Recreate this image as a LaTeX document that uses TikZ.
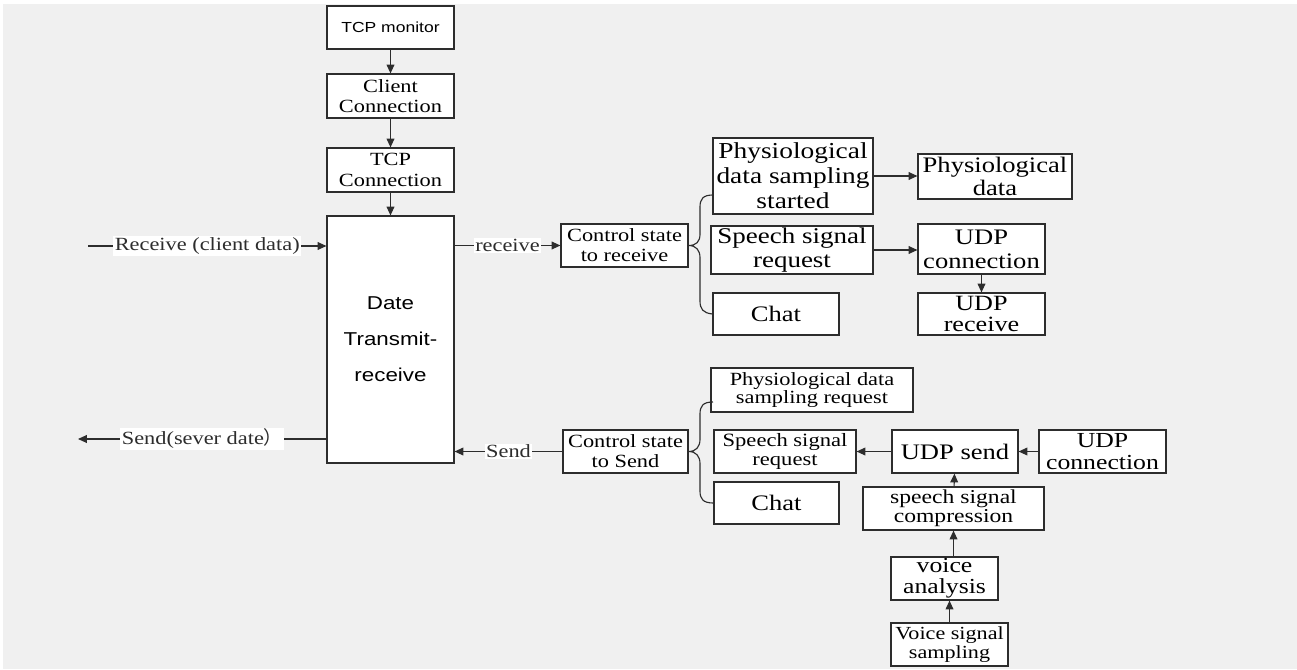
\documentclass[tikz,border=0pt]{standalone}
\usepackage{fontspec}
\setmainfont{Liberation Serif}[FakeStretch=1.2]
\newfontfamily\arialfont{Liberation Sans}[FakeStretch=1.2]
\newfontfamily\cjkfont{Noto Sans CJK SC}
\usetikzlibrary{positioning, arrows.meta, calc}
\definecolor{bggray}{RGB}{240,240,240}
\definecolor{linecol}{RGB}{45,45,45}

\begin{document}
\begin{tikzpicture}[
    x=0.02cm, y=-0.02cm,
    % --- STYLES ---
    box/.style={
            draw=linecol,
            fill=white,
            line width=0.65pt,
            inner sep=0pt,
            align=center
        },
    small/.style={font=\fontsize{10.6}{11.5}\selectfont},
    big/.style={font=\fontsize{12.6}{13.5}\selectfont},
    arr/.style={
            -{Triangle[length=5pt,width=4.4pt]},
            line width=0.65pt,
            color=linecol
        },
    lbl/.style={
            midway,
            fill=white,
            inner sep=0.8pt,
            font=\fontsize{10.6}{11.5}\selectfont
        },
    brace/.style={line width=0.65pt, color=linecol}
    ]

    % --- BACKGROUND ---
    \useasboundingbox (0,0) rectangle (1297,669);
    \fill[bggray] (3,4) rectangle (1297,669);

    % --- TCP CHAIN ---
    \node[box, minimum width=2.54cm, minimum height=0.86cm, font=\arialfont\fontsize{8.3}{9}\selectfont] (tcpmon) at (390.5,27.5) {TCP monitor};
    \node[box, small, minimum width=2.54cm, minimum height=0.88cm] (client) at (390.5,96) {Client\\Connection};
    \node[box, small, minimum width=2.54cm, minimum height=0.88cm] (tcpconn) at (390.5,170) {TCP\\Connection};
    \node[box, minimum width=2.54cm, minimum height=4.94cm, font=\arialfont\fontsize{10.6}{20.4}\selectfont] (dtr) at (390.5,339.5) {Date\\Transmit-\\receive};

    % --- RECEIVE SIDE ---
    \node[box, small, minimum width=2.54cm, minimum height=0.86cm] (ctrlrecv) at (624.5,245.5) {Control state\\to receive};
    \node[box, font=\fontsize{13}{14.2}\selectfont, minimum width=3.2cm, minimum height=1.52cm] (physstart) at (793,176) {Physiological\\data sampling\\started};
    \node[box, font=\fontsize{12.8}{13.6}\selectfont, minimum width=3.24cm, minimum height=0.96cm] (speechrecv) at (792,250) {Speech signal\\request};
    \node[box, big, minimum width=2.52cm, minimum height=0.84cm] (chatrecv) at (776,314) {Chat};
    \node[box, font=\fontsize{12.6}{13}\selectfont, minimum width=3.08cm, minimum height=0.9cm] (physdata) at (995,176.5) {Physiological\\data};
    \node[box, big, minimum width=2.54cm, minimum height=1cm] (udpconnrecv) at (981.5,249) {UDP\\connection};
    \node[box, font=\fontsize{12.4}{12.4}\selectfont, minimum width=2.54cm, minimum height=0.84cm] (udprecv) at (981.5,314) {UDP\\receive};

    % --- SEND SIDE ---
    \node[box, small, minimum width=2.5cm, minimum height=0.86cm] (ctrlsend) at (625.5,451.5) {Control state\\to Send};
    \node[box, font=\fontsize{10.6}{10.6}\selectfont, minimum width=4.04cm, minimum height=0.88cm] (physreq) at (812,390) {Physiological data\\sampling request};
    \node[box, font=\fontsize{10.7}{11}\selectfont, minimum width=2.84cm, minimum height=0.86cm] (speechsend) at (785,451.5) {Speech signal\\request};
    \node[box, big, minimum width=2.5cm, minimum height=0.84cm] (chatsend) at (776.5,503) {Chat};
    \node[box, big, minimum width=2.52cm, minimum height=0.86cm] (udpsend) at (955,451.5) {UDP send};
    \node[box, font=\fontsize{12.2}{12.2}\selectfont, minimum width=2.54cm, minimum height=0.86cm] (udpconnsend) at (1102.5,451.5) {UDP\\connection};
    \node[box, font=\fontsize{11.2}{10.8}\selectfont, minimum width=3.62cm, minimum height=0.86cm] (compress) at (953.5,508.5) {speech signal\\compression};
    \node[box, font=\fontsize{12.2}{12}\selectfont, minimum width=2.14cm, minimum height=0.86cm] (analysis) at (944.5,578.5) {voice\\analysis};
    \node[box, font=\fontsize{10.5}{10.4}\selectfont, minimum width=2.34cm, minimum height=0.86cm] (sampling) at (949.5,644.5) {Voice signal\\sampling};

    % --- FREE ENDS ---
    \coordinate (rxin) at (88,246);
    \coordinate (txout) at (78,439);

    % --- CONNECTIONS ---
    \draw[arr] (tcpmon) -- (client);
    \draw[arr] (client) -- (tcpconn);
    \draw[arr] (tcpconn) -- (dtr);

    \draw[arr] (rxin) -- node[lbl] {Receive (client data)} (rxin -| dtr.west);
    \draw[arr] (txout -| dtr.west) -- node[lbl] {Send(sever date{\cjkfont ）}} (txout);

    \draw[arr] (ctrlrecv.west -| dtr.east) -- node[lbl] {receive} (ctrlrecv.west);
    \draw[arr] (ctrlsend.west) -- node[lbl] {Send} (ctrlsend.west -| dtr.east);

    \draw[arr] (physstart.east) -- (physstart.east -| physdata.west);
    \draw[arr] (speechrecv.east) -- (speechrecv.east -| udpconnrecv.west);
    \draw[arr] (udpconnrecv) -- (udprecv);

    \draw[arr] (udpconnsend) -- (udpsend);
    \draw[arr] (udpsend) -- (speechsend);
    \draw[arr] (compress) -- (udpsend);
    \draw[arr] ([xshift=0.18cm]analysis.north) -- ([xshift=0.18cm]analysis.north |- compress.south);
    \draw[arr] (sampling.north) -- (sampling.north |- analysis.south);

    % --- BRACES ---
    \draw[brace] (713,195) .. controls (703,195) and (700,199) .. (700,207) -- (700,234)
        .. controls (700,242) and (696,245.5) .. (ctrlrecv.east)
        .. controls (696,245.5) and (700,250) .. (700,258) -- (700,301)
        .. controls (700,309) and (703,313) .. (chatrecv.west);
    \draw[brace] (713,402) .. controls (703,402) and (700,406) .. (700,414) -- (700,439)
        .. controls (700,447) and (696,451.5) .. (ctrlsend.east)
        .. controls (696,451.5) and (700,456) .. (700,464) -- (700,491)
        .. controls (700,499) and (703,503) .. (chatsend.west);

\end{tikzpicture}
\end{document}
